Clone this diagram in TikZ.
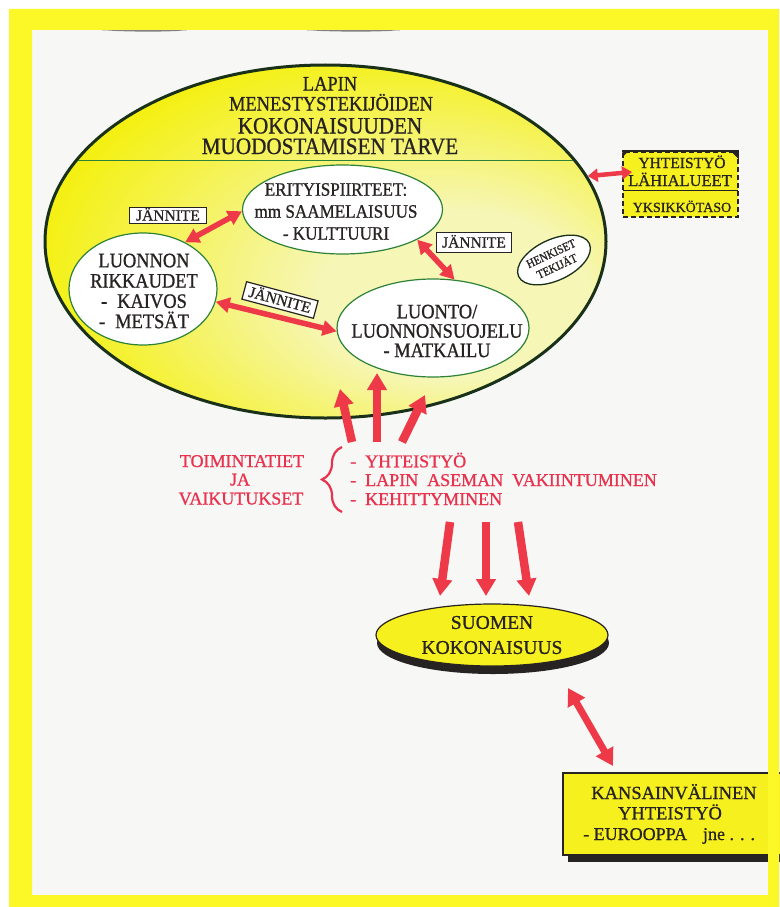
\documentclass[tikz,border=0pt]{standalone}
\usepackage{fontspec}
\setmainfont{Liberation Serif}[FakeBold=0.9]
\newfontfamily\cnd{Liberation Serif}[FakeStretch=0.9,FakeBold=0.9]
\usetikzlibrary{arrows.meta,shapes.geometric,decorations.pathreplacing}
\definecolor{frameY}{RGB}{252,248,40}
\definecolor{paper}{RGB}{247,247,246}
\definecolor{ellY}{RGB}{244,240,12}
\definecolor{paleY}{RGB}{246,246,182}
\definecolor{rimG}{RGB}{25,48,25}
\definecolor{inG}{RGB}{45,130,55}
\definecolor{arR}{RGB}{238,58,72}
\definecolor{txR}{RGB}{232,50,78}
\definecolor{ink}{RGB}{40,35,35}
\definecolor{boxY}{RGB}{246,240,30}
\pgfdeclareradialshading{bigshade}{\pgfpoint{15bp}{-10bp}}{color(0bp)=(paleY); color(12bp)=(paleY); color(32bp)=(ellY); color(50bp)=(ellY)}
\newcommand{\redfont}{\fontsize{18}{18}\selectfont\spaceskip 9pt\relax}
\begin{document}
\begin{tikzpicture}[x=1pt,y=-1pt,
  inell/.style={ellipse, draw=inG, line width=1.2pt, fill=white, inner sep=0pt},
  intext/.style={align=center, text=ink, inner sep=0pt},
  jbox/.style={draw=ink, line width=1.2pt, fill=white, inner sep=0pt, text=ink,
    font=\fontsize{15.5}{15.5}\selectfont, text height=10pt, text depth=0pt},
  dblA/.style={draw=arR, line width=5.5pt, {Triangle[length=14pt,width=15pt]}-{Triangle[length=14pt,width=15pt]}},
  dblS/.style={draw=arR, line width=4.5pt, {Triangle[length=10pt,width=13pt]}-{Triangle[length=10pt,width=13pt]}},
  dblL/.style={draw=arR, line width=7pt, {Triangle[length=17pt,width=19pt]}-{Triangle[length=17pt,width=19pt]}},
  bigar/.style={draw=arR, line width=8.5pt, -{Triangle[length=17pt,width=19pt]}},
  redt/.style={text=txR, inner sep=0pt, font=\redfont},
  tit/.style={text=ink, inner sep=0pt, anchor=base},
  boxt/.style={text=ink, inner sep=0pt, anchor=base}]
\useasboundingbox (0,0) rectangle (779,907);
\fill[white] (0,0) rectangle (779,907);
\fill[paper] (32,30) rectangle (768,895);
% faint smudges at the top
\fill[black!80, opacity=.6] (102,30.5) .. controls (140,29.5) and (160,29.5) .. (187,30.5) .. controls (160,32) and (140,32) .. (102,30.5) -- cycle;
\fill[black!80, opacity=.6] (307,30.5) .. controls (345,29.5) and (370,29.5) .. (400,30.5) .. controls (370,32) and (345,32) .. (307,30.5) -- cycle;

% big ellipse
\node[ellipse, draw=rimG, line width=3pt, shade, shading=bigshade, minimum width=561pt, minimum height=353pt, inner sep=0pt] (big) at (325.5,241.5) {};
\begin{scope}
  \clip (325.5,241.5) ellipse [x radius=279, y radius=175];
  \draw[inG, line width=1pt] (30,160) -- (620,160);
\end{scope}
\node[tit, font=\cnd\fontsize{20.5}{20.5}\selectfont] (t1) at (330,90.5) {LAPIN};
\node[tit, font=\cnd\fontsize{20.5}{20.5}\selectfont] (t2) at (331,110.5) {MENESTYSTEKIJÖIDEN};
\node[tit, font=\cnd\fontsize{23.5}{23.5}\selectfont] (t3) at (330,133.5) {KOKONAISUUDEN};
\node[tit, font=\cnd\fontsize{23.5}{23.5}\selectfont] (t4) at (330,154) {MUODOSTAMISEN TARVE};

% inner ellipses
\node[inell, minimum width=200pt, minimum height=89pt] (e1) at (342.5,209.5) {};
\node[intext, font=\cnd\fontsize{19}{22}\selectfont] (e1t) at (336,211.5) {ERITYISPIIRTEET:\\mm SAAMELAISUUS\\- KULTTUURI};
\node[inell, minimum width=148pt, minimum height=112pt] (e2) at (143,289) {};
\node[intext, font=\cnd\fontsize{20.5}{20.3}\selectfont] (e2t) at (144,291) {LUONNON\\RIKKAUDET\\-\hspace{10pt}KAIVOS\\-\hspace{10pt}METSÄT};
\node[inell, minimum width=192pt, minimum height=98pt] (e3) at (433,328) {};
\node[intext, font=\cnd\fontsize{20.5}{19.4}\selectfont] (e3t) at (437,331) {LUONTO/\\LUONNONSUOJELU\\- MATKAILU};
\node[ellipse, draw=rimG, line width=1.3pt, fill=white, rotate=25, minimum width=78pt, minimum height=41pt, inner sep=0pt, align=center, text=ink, font=\cnd\fontsize{12}{14}\selectfont] (e4) at (554,260) {HENKISET\\TEKIJÄT};

% tension labels
\node[jbox, minimum width=77pt, minimum height=16pt] (j1) at (168,215.5) {JÄNNITE};
\node[jbox, minimum width=75pt, minimum height=20pt] (j2) at (474,242.5) {JÄNNITE};
\node[jbox, minimum width=74pt, minimum height=18pt, rotate=-15] (j3) at (280,300) {JÄNNITE};

% arrows between inner ellipses
\draw[dblA] (e2.48) -- (e1.181);
\draw[dblA] (e2.350) -- (e3.182);
\draw[dblA] (e1.338) -- (e3.66);

% box top right
\node[draw=ink, dash pattern=on 5pt off 3pt, line width=1.5pt, fill=boxY, minimum width=115pt, minimum height=65pt, inner sep=0pt] (yht) at (680.5,184.5) {};
\draw[ink, line width=1.8pt] (yht.north west) -- (yht.north east);
\draw[ink, line width=1pt] (623,190) -- (738,190);
\fill[ink] (yht.north east) -- ++(-8,0) -- ++(8,8) -- cycle;
\fill[ink] (yht.north west) -- ++(6,0) -- ++(-6,6) -- cycle;
\node[boxt, font=\fontsize{15.5}{15.5}\selectfont] (y1) at (682,168) {YHTEISTYÖ};
\node[boxt, font=\fontsize{16.5}{16.5}\selectfont] (y2) at (680,186) {LÄHIALUEET};
\node[boxt, font=\fontsize{14}{14}\selectfont] (y3) at (682,212) {YKSIKKÖTASO};
\coordinate (ya) at (632,172);
\draw[dblS] (big.14) -- (ya);

% arrows up
\coordinate (u1a) at (352,442); \coordinate (u1b) at (340,389);
\coordinate (u2a) at (377,442); \coordinate (u2b) at (377,373);
\coordinate (u3a) at (402,442); \coordinate (u3b) at (425,395);
\draw[bigar] (u1a) -- (u1b);
\draw[bigar] (u2a) -- (u2b);
\draw[bigar] (u3a) -- (u3b);

% red text
\node[redt, anchor=base] (l1) at (242,467) {TOIMINTATIET};
\node[redt, anchor=base] (l2) at (240,485.5) {JA};
\node[redt, anchor=base] (l3) at (241,504.5) {VAIKUTUKSET};
\draw[txR, line width=2.2pt, decorate, decoration={brace, amplitude=20pt}] (342,512) -- (342,447);
\node[redt, anchor=base west] (r1) at (350,467.3) {- YHTEISTYÖ};
\node[redt, anchor=base west] (r2) at (350,486) {- LAPIN ASEMAN VAKIINTUMINEN};
\node[redt, anchor=base west] (r3) at (350,505) {- KEHITTYMINEN};

% arrows down
\coordinate (d1a) at (450,522); \coordinate (d1b) at (440,596);
\coordinate (d2a) at (486,522); \coordinate (d2b) at (486,596);
\coordinate (d3a) at (518,522); \coordinate (d3b) at (529,596);
\draw[bigar] (d1a) -- (d1b);
\draw[bigar] (d2a) -- (d2b);
\draw[bigar] (d3a) -- (d3b);

% Suomen disc
\fill[ink] (493,643) ellipse [x radius=116, y radius=31];
\node[ellipse, draw=ink, line width=1.2pt, fill=boxY, minimum width=232pt, minimum height=62pt, inner sep=0pt, align=center, text=ink, font=\fontsize{19.5}{25}\selectfont] (suomen) at (492,635) {SUOMEN\\KOKONAISUUS};

% international box
\coordinate (s1) at (568,688); \coordinate (s2) at (613,766);
\draw[dblL] (s1) -- (s2);
\fill[ink] (568,780) rectangle (795,862);
\node[draw=ink, line width=1.3pt, fill=boxY, minimum width=227pt, minimum height=82pt, inner sep=0pt] (kv) at (676.5,814) {};
\node[boxt, font=\fontsize{18.5}{18.5}\selectfont] (k1) at (674,799) {KANSAINVÄLINEN};
\node[boxt, font=\fontsize{18.5}{18.5}\selectfont] (k2) at (670,819.3) {YHTEISTYÖ};
\node[boxt, anchor=base west, font=\fontsize{18}{18}\selectfont] (k3) at (583,840) {- EUROOPPA\hspace{16pt}jne . . .};

% frame
\fill[frameY, even odd rule] (9,9) rectangle (779,907) (32,30) rectangle (768,895);
\end{tikzpicture}
\end{document}
